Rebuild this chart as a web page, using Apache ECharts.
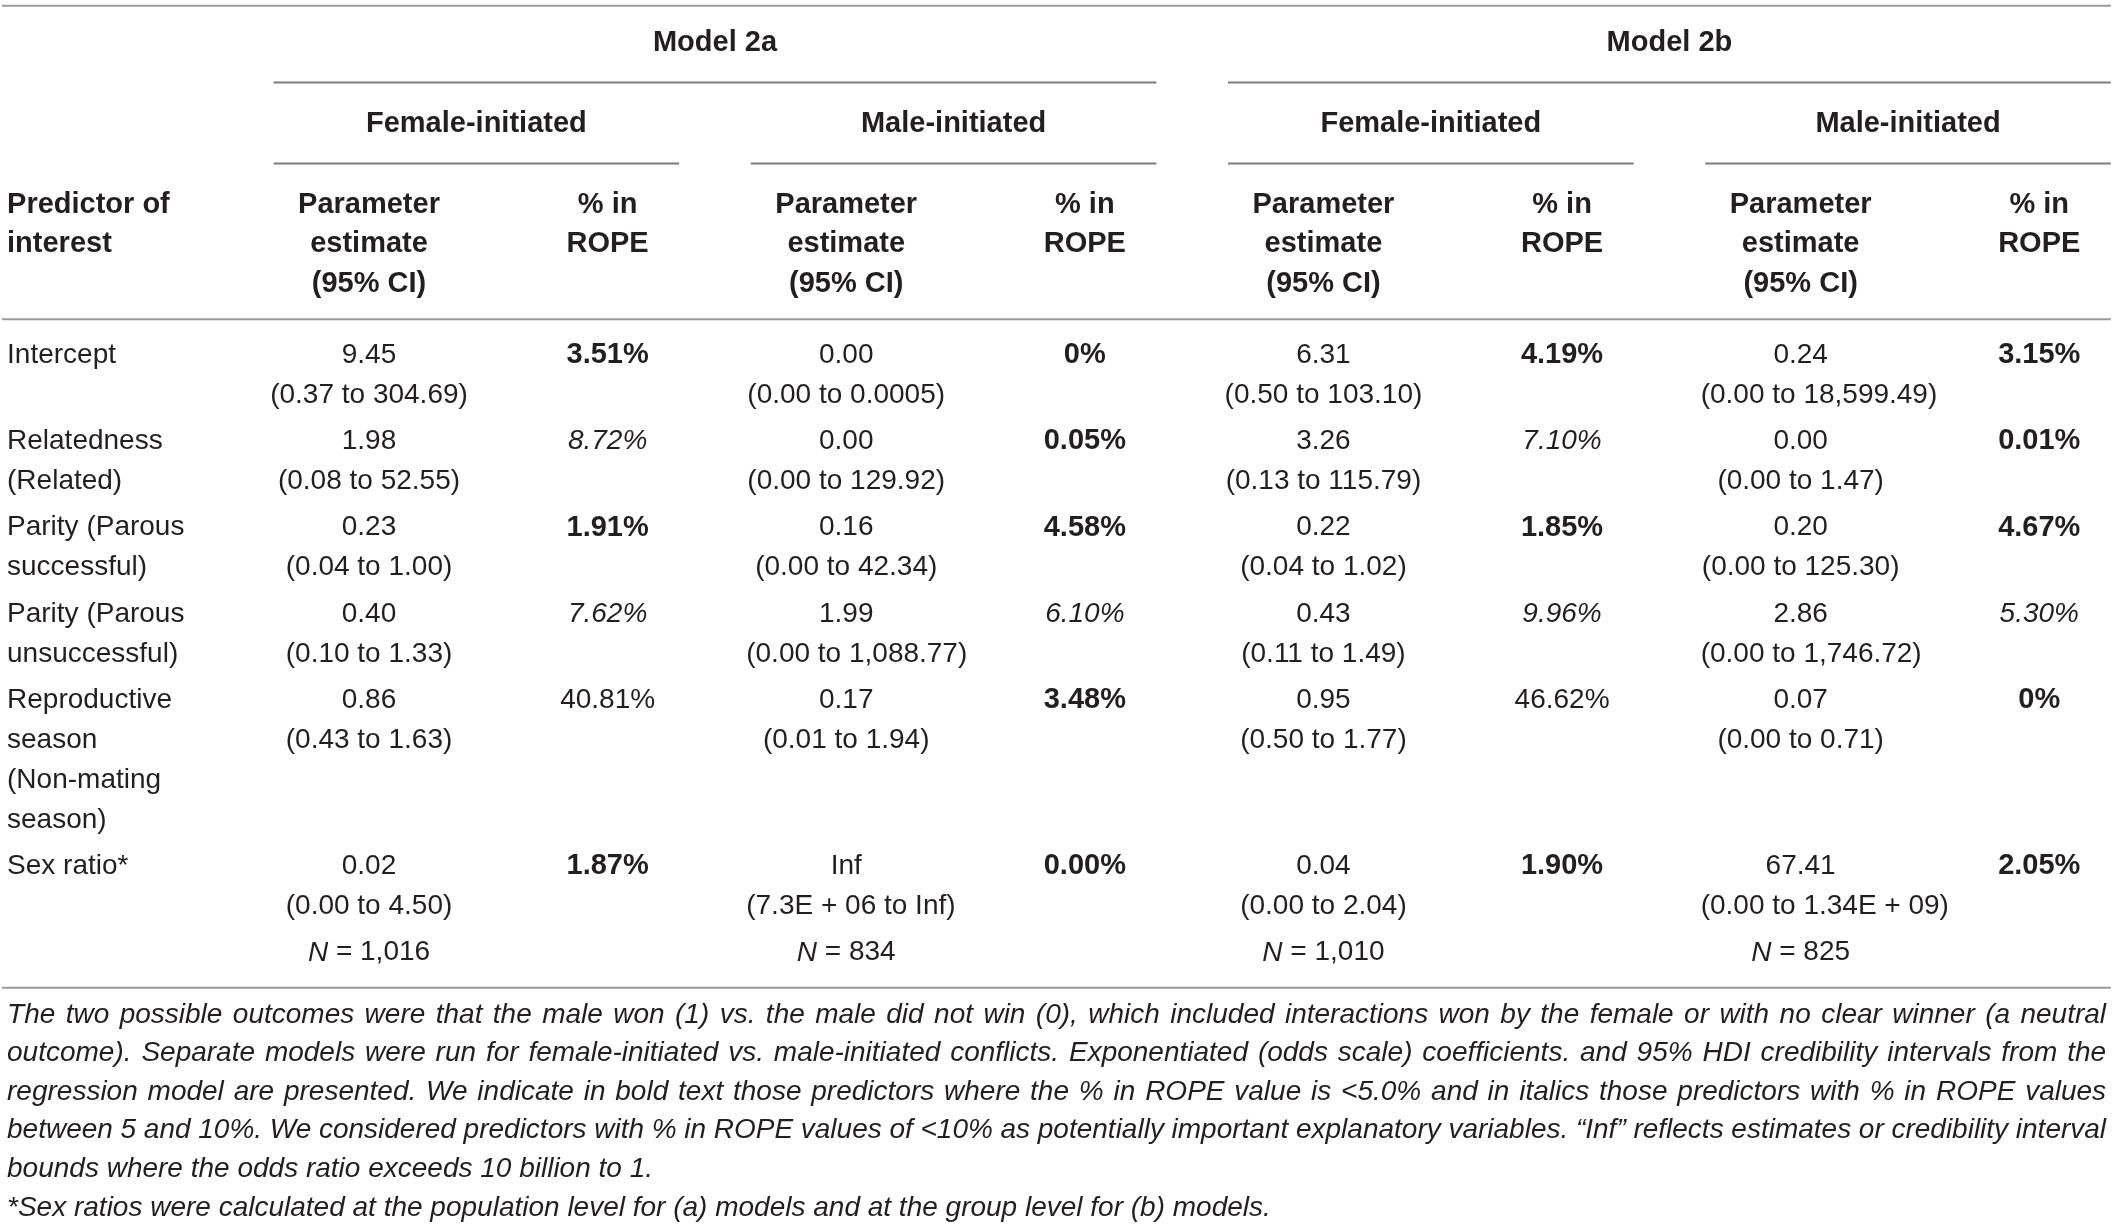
<!DOCTYPE html>
<html lang="en">
<head>
    <meta charset="UTF-8">
    <title>Model 2a / 2b table</title>
    <script type="text/javascript" src="https://cdn.jsdelivr.net/npm/echarts@6/dist/echarts.min.js"></script>
    <style type="text/css">
        html,body{margin:0;padding:0;background:#fff;}
        #main{width:2118px;height:1225px;}
    </style>
</head>
<body>
<div id="main"></div>
<script type="text/javascript">
    // table content
    var modelNames = ["Model 2a", "Model 2b"];
    var initiators = ["Female-initiated", "Male-initiated"];
    var estHeader = ["Parameter", "estimate", "(95% CI)"];
    var ropeHeader = ["% in", "ROPE"];
    var predHeader = ["Predictor of", "interest"];
    var predictors = [
        ["Intercept"],
        ["Relatedness", "(Related)"],
        ["Parity (Parous", "successful)"],
        ["Parity (Parous", "unsuccessful)"],
        ["Reproductive", "season", "(Non-mating", "season)"],
        ["Sex ratio*"]
    ];
    // Model 2a, female-initiated
    var est2aF = ["9.45", "1.98", "0.23", "0.40", "0.86", "0.02"];
    var ci2aF = ["(0.37 to 304.69)", "(0.08 to 52.55)", "(0.04 to 1.00)", "(0.10 to 1.33)", "(0.43 to 1.63)", "(0.00 to 4.50)"];
    var rope2aF = ["3.51%", "8.72%", "1.91%", "7.62%", "40.81%", "1.87%"];
    // Model 2a, male-initiated
    var est2aM = ["0.00", "0.00", "0.16", "1.99", "0.17", "Inf"];
    var ci2aM = ["(0.00 to 0.0005)", "(0.00 to 129.92)", "(0.00 to 42.34)", "(0.00 to 1,088.77)", "(0.01 to 1.94)", "(7.3E + 06 to Inf)"];
    var rope2aM = ["0%", "0.05%", "4.58%", "6.10%", "3.48%", "0.00%"];
    // Model 2b, female-initiated
    var est2bF = ["6.31", "3.26", "0.22", "0.43", "0.95", "0.04"];
    var ci2bF = ["(0.50 to 103.10)", "(0.13 to 115.79)", "(0.04 to 1.02)", "(0.11 to 1.49)", "(0.50 to 1.77)", "(0.00 to 2.04)"];
    var rope2bF = ["4.19%", "7.10%", "1.85%", "9.96%", "46.62%", "1.90%"];
    // Model 2b, male-initiated
    var est2bM = ["0.24", "0.00", "0.20", "2.86", "0.07", "67.41"];
    var ci2bM = ["(0.00 to 18,599.49)", "(0.00 to 1.47)", "(0.00 to 125.30)", "(0.00 to 1,746.72)", "(0.00 to 0.71)", "(0.00 to 1.34E + 09)"];
    var rope2bM = ["3.15%", "0.01%", "4.67%", "5.30%", "0%", "2.05%"];
    var sampleN = ["1,016", "834", "1,010", "825"];

    var footLines = [
        "The two possible outcomes were that the male won (1) vs. the male did not win (0), which included interactions won by the female or with no clear winner (a neutral",
        "outcome). Separate models were run for female-initiated vs. male-initiated conflicts. Exponentiated (odds scale) coefficients. and 95% HDI credibility intervals from the",
        "regression model are presented. We indicate in bold text those predictors where the % in ROPE value is <5.0% and in italics those predictors with % in ROPE values",
        "between 5 and 10%. We considered predictors with % in ROPE values of <10% as potentially important explanatory variables. \u201cInf\u201d reflects estimates or credibility interval",
        "bounds where the odds ratio exceeds 10 billion to 1.",
        "*Sex ratios were calculated at the population level for (a) models and at the group level for (b) models."
    ];
    var footJustify = [true, true, true, true, false, false];

    var groups = [
        {est: est2aF, ci: ci2aF, rope: rope2aF},
        {est: est2aM, ci: ci2aM, rope: rope2aM},
        {est: est2bF, ci: ci2bF, rope: rope2bF},
        {est: est2bM, ci: ci2bM, rope: rope2bM}
    ];

    // layout (x in column units, y in text-line units)
    var X_MIN = -0.5465, X_MAX = 8.330;
    var X_LABEL = -0.517, X_RULE_L = -0.538, X_RULE_R = 8.30, X_FOOT_R = 8.28;
    var Y_MAX = 30.78;
    var Y_MODEL = 1.07, Y_RULE1 = 2.07, Y_INIT = 3.12, Y_RULE2 = 4.11, Y_HEAD = 5.14, Y_RULE3 = 8.02;
    var Y_BODY = 8.92, ROW_GAP = 0.17;
    var FOOT_TOP = 0.68, FOOT_PITCH = 0.97;
    var FONT = "'Liberation Sans', Arial, Helvetica, sans-serif";
    var INK = '#231f20';
    var CI_HALF = 100; // px, ci text never starts further left than this

    var mctx = document.createElement('canvas').getContext('2d');
    function textWidth(str, font) {
        mctx.font = font;
        return mctx.measureText(str).width;
    }

    // build cells
    var cells = [];
    var rules = [];
    rules.push([X_RULE_L, X_RULE_R, 0.145, 'full']);
    for (var m = 0; m < 2; m++) {
        var c0 = 1 + m * 4;
        cells.push({x: (c0 - 0.40 + c0 + 3 + 0.30) / 2, y: Y_MODEL, text: modelNames[m], kind: 'head'});
        rules.push([c0 - 0.40, m == 1 ? X_RULE_R : c0 + 3 + 0.30, Y_RULE1, 'span']);
        for (var s = 0; s < 2; s++) {
            var c1 = c0 + s * 2;
            cells.push({x: (c1 - 0.40 + c1 + 1 + 0.30) / 2, y: Y_INIT, text: initiators[s], kind: 'head'});
            rules.push([c1 - 0.40, (m == 1 && s == 1) ? X_RULE_R : c1 + 1 + 0.30, Y_RULE2, 'span']);
            for (var h = 0; h < estHeader.length; h++) {
                cells.push({x: c1, y: Y_HEAD + h, text: estHeader[h], kind: 'head'});
            }
            for (var h2 = 0; h2 < ropeHeader.length; h2++) {
                cells.push({x: c1 + 1, y: Y_HEAD + h2, text: ropeHeader[h2], kind: 'head'});
            }
        }
    }
    for (var ph = 0; ph < predHeader.length; ph++) {
        cells.push({x: X_LABEL, y: Y_HEAD + ph, text: predHeader[ph], kind: 'headL'});
    }
    rules.push([X_RULE_L, X_RULE_R, Y_RULE3, 'full']);

    var y = Y_BODY;
    for (var r = 0; r < predictors.length; r++) {
        for (var k = 0; k < predictors[r].length; k++) {
            cells.push({x: X_LABEL, y: y + k, text: predictors[r][k], kind: 'label'});
        }
        for (var g = 0; g < groups.length; g++) {
            var col = 1 + g * 2;
            cells.push({x: col, y: y, text: groups[g].est[r], kind: 'est'});
            cells.push({x: col, y: y + 1, text: groups[g].ci[r], kind: 'ci'});
            var v = parseFloat(groups[g].rope[r]);
            cells.push({x: col + 1, y: y, text: groups[g].rope[r], kind: v < 5 ? 'ropeB' : (v < 10 ? 'ropeI' : 'est')});
        }
        // each row is at least two lines tall (estimate + interval)
        y += Math.max(predictors[r].length, 2) + ROW_GAP;
    }
    for (var n = 0; n < sampleN.length; n++) {
        cells.push({x: 1 + n * 2, y: y, text: '{i|N} = ' + sampleN[n], kind: 'n'});
    }
    var yBottom = y + 0.88;
    rules.push([X_RULE_L, X_RULE_R, yBottom, 'full']);

    var footData = [];
    for (var f = 0; f < footLines.length; f++) {
        footData.push([X_LABEL, yBottom + FOOT_TOP + f * FOOT_PITCH]);
    }

    function fontOf(kind) {
        if (kind == 'head' || kind == 'headL' || kind == 'ropeB') return {w: 'bold', s: 'normal', z: 29};
        if (kind == 'ropeI') return {w: 'normal', s: 'italic', z: 28};
        return {w: 'normal', s: 'normal', z: 28};
    }

    var myChart = echarts.init(document.getElementById('main'), null, {renderer: 'canvas'});
    var option = {
        animation: false,
        backgroundColor: '#ffffff',
        grid: {left: 0, right: 0, top: 0, bottom: 0},
        xAxis: {type: 'value', min: X_MIN, max: X_MAX, show: false},
        yAxis: {type: 'value', min: 0, max: Y_MAX, inverse: true, show: false},
        series: [
            {
                type: 'custom',
                name: 'rules',
                clip: false,
                encode: {x: [0, 1], y: 2},
                data: rules.map(function (d) { return [d[0], d[1], d[2]]; }),
                renderItem: function (params, api) {
                    var d = rules[params.dataIndex];
                    var p1 = api.coord([d[0], d[2]]);
                    var p2 = api.coord([d[1], d[2]]);
                    return {
                        type: 'line',
                        shape: {x1: p1[0], y1: p1[1], x2: p2[0], y2: p2[1]},
                        style: {stroke: d[3] == 'full' ? '#9a9a9a' : '#7c7c7c', lineWidth: 2}
                    };
                }
            },
            {
                type: 'custom',
                name: 'cells',
                clip: false,
                data: cells.map(function (c) { return [c.x, c.y]; }),
                renderItem: function (params, api) {
                    var c = cells[params.dataIndex];
                    var p = api.coord([c.x, c.y]);
                    var ft = fontOf(c.kind);
                    var align = (c.kind == 'label' || c.kind == 'headL') ? 'left' : 'center';
                    var x = p[0];
                    if (c.kind == 'ci') {
                        var w = textWidth(c.text, ft.s + ' ' + ft.w + ' ' + ft.z + 'px ' + FONT);
                        if (w / 2 > CI_HALF) {
                            align = 'left';
                            x = p[0] - CI_HALF;
                        }
                    }
                    var style = {
                        text: c.text,
                        fill: INK,
                        fontFamily: FONT,
                        fontSize: ft.z,
                        fontWeight: ft.w,
                        fontStyle: ft.s,
                        align: align,
                        verticalAlign: 'middle'
                    };
                    if (c.kind == 'n') {
                        style.rich = {i: {fontStyle: 'italic', fontFamily: FONT, fontSize: 28, fill: INK}};
                    }
                    return {type: 'text', x: x, y: p[1], style: style};
                }
            },
            {
                type: 'custom',
                name: 'footnote',
                clip: false,
                data: footData,
                renderItem: function (params, api) {
                    var i = params.dataIndex;
                    var p = api.coord(footData[i]);
                    var right = api.coord([X_FOOT_R, footData[i][1]])[0];
                    var font = 'italic normal 28px ' + FONT;
                    var words = footLines[i].split(' ');
                    var widths = words.map(function (wd) { return textWidth(wd, font); });
                    var sum = widths.reduce(function (a, b) { return a + b; }, 0);
                    var gap = footJustify[i] ? (right - p[0] - sum) / (words.length - 1) : textWidth(' ', font);
                    var children = [];
                    var x = p[0];
                    for (var j = 0; j < words.length; j++) {
                        children.push({
                            type: 'text', x: x, y: p[1],
                            style: {
                                text: words[j], fill: INK, fontFamily: FONT, fontSize: 28,
                                fontStyle: 'italic', align: 'left', verticalAlign: 'middle'
                            }
                        });
                        x += widths[j] + gap;
                    }
                    return {type: 'group', children: children};
                }
            }
        ]
    };
    myChart.setOption(option);
</script>
</body>
</html>
